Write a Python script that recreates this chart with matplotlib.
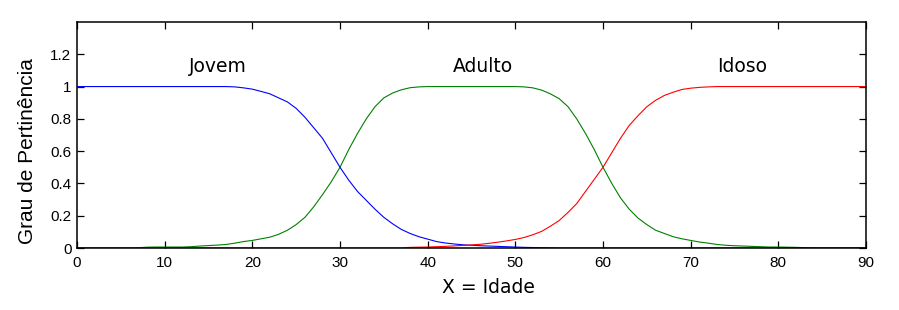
import matplotlib
matplotlib.use("Agg")
import matplotlib.pyplot as plt

# age samples, one per year
idade = list(range(0, 91))

jovem = [
    1, 1, 1, 1, 1, 1, 1, 1, 1, 1,
    1, 1, 1, 1, 1, 1, 1, 1, 0.998, 0.992,
    0.984, 0.97, 0.955, 0.93, 0.905, 0.865, 0.81, 0.745, 0.68, 0.59,
    0.5, 0.42, 0.35, 0.295, 0.24, 0.19, 0.15, 0.115, 0.09, 0.07,
    0.055, 0.04, 0.031, 0.025, 0.02, 0.017, 0.014, 0.012, 0.01, 0.008,
    0.006, 0.004, 0.003, 0.002, 0.001, 0, 0, 0, 0, 0,
    0, 0, 0, 0, 0, 0, 0, 0, 0, 0,
    0, 0, 0, 0, 0, 0, 0, 0, 0, 0,
    0, 0, 0, 0, 0, 0, 0, 0, 0, 0,
    0,
]
adulto = [
    0, 0, 0, 0, 0, 0, 0, 0.002, 0.005, 0.006,
    0.006, 0.006, 0.006, 0.008, 0.012, 0.015, 0.018, 0.022, 0.03, 0.04,
    0.047, 0.057, 0.067, 0.085, 0.11, 0.145, 0.19, 0.255, 0.33, 0.41,
    0.5, 0.61, 0.71, 0.8, 0.876, 0.93, 0.96, 0.98, 0.993, 0.998,
    1, 1, 1, 1, 1, 1, 1, 1, 1, 1,
    1, 0.998, 0.992, 0.978, 0.955, 0.925, 0.876, 0.8, 0.71, 0.61,
    0.5, 0.4, 0.31, 0.24, 0.185, 0.145, 0.11, 0.09, 0.07, 0.057,
    0.047, 0.037, 0.03, 0.022, 0.017, 0.014, 0.012, 0.01, 0.008, 0.006,
    0.006, 0.005, 0.004, 0.002, 0, 0, 0, 0, 0, 0,
    0,
]
idoso = [
    0, 0, 0, 0, 0, 0, 0, 0, 0, 0,
    0, 0, 0, 0, 0, 0, 0, 0, 0, 0,
    0, 0, 0, 0, 0, 0, 0, 0, 0, 0,
    0, 0, 0, 0, 0, 0, 0, 0, 0.004, 0.005,
    0.006, 0.008, 0.01, 0.013, 0.016, 0.019, 0.023, 0.029, 0.036, 0.044,
    0.053, 0.065, 0.082, 0.103, 0.135, 0.17, 0.22, 0.275, 0.35, 0.425,
    0.5, 0.59, 0.68, 0.76, 0.82, 0.875, 0.915, 0.945, 0.965, 0.982,
    0.99, 0.995, 0.998, 1, 1, 1, 1, 1, 1, 1,
    1, 1, 1, 1, 1, 1, 1, 1, 1, 1,
    1,
]

rotulos = ["Jovem", "Adulto", "Idoso"]
rotulo_x = [12.8, 42.9, 73.0]
rotulo_y = 1.09

xticks = list(range(0, 100, 10))
yticks = [0, 0.2, 0.4, 0.6, 0.8, 1, 1.2]
ytick_labels = ["0", "0.2", "0.4", "0.6", "0.8", "1", "1.2"]

fig = plt.figure(figsize=(8.99, 3.10), dpi=100)
ax = fig.add_axes([77 / 899, 62 / 310, 789 / 899, 226 / 310])

ax.plot(idade, adulto, color=(0, 0.5, 0), lw=0.8)
ax.plot(idade, jovem, color=(0, 0, 1), lw=0.8)
ax.plot(idade, idoso, color=(1, 0, 0), lw=0.8)

for nome, xt in zip(rotulos, rotulo_x):
    ax.text(xt, rotulo_y, nome, ha="left", va="baseline",
            fontsize=13.5, family="DejaVu Sans")

ax.set_xlim(0, 90)
ax.set_ylim(0, 1.4)
ax.set_xticks(xticks)
ax.set_yticks(yticks)
ax.set_yticklabels(ytick_labels)
ax.tick_params(direction="in", top=True, right=True, length=5, width=0.9,
               labelsize=11, labelfontfamily="Liberation Sans")
ax.tick_params(axis="x", pad=6)
ax.tick_params(axis="y", pad=4)
for s in ax.spines.values():
    s.set_linewidth(1.1)

ax.set_xlabel("X = Idade", fontsize=13.5, family="DejaVu Sans")
ax.xaxis.set_label_coords(0.521, -0.131)
ax.set_ylabel("Grau de Pertinência", fontsize=15, family="Liberation Sans")
ax.yaxis.set_label_coords(-0.051, 0.427)

fig.savefig("out.png", dpi=100)
